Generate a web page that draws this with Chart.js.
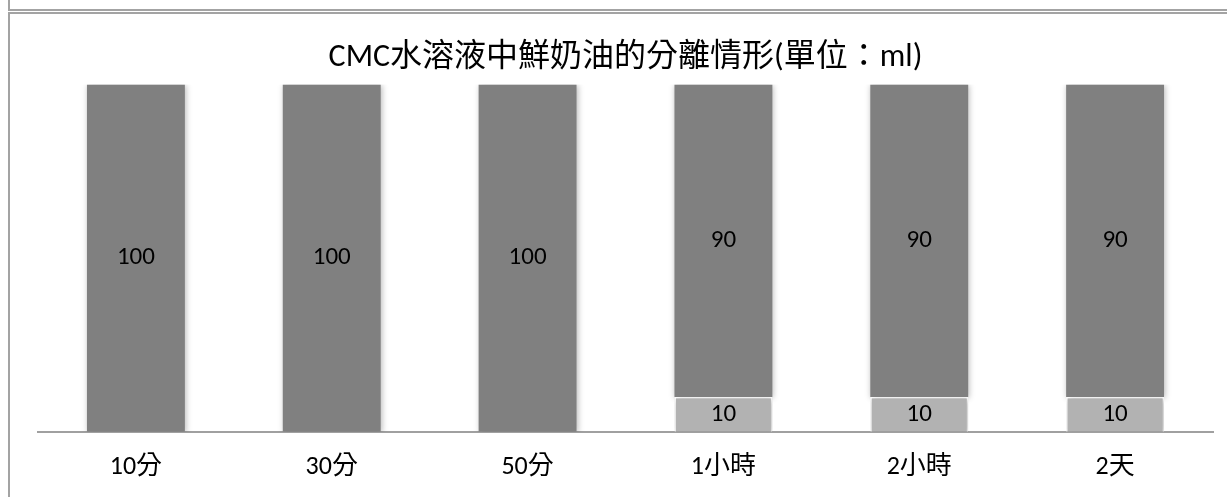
<!DOCTYPE html>
<html lang="zh-Hant">
<head>
    <meta charset="UTF-8">
    <title>CMC水溶液中鮮奶油的分離情形</title>
    <script src="https://cdn.jsdelivr.net/npm/chart.js"></script>
    <style>
        body {
            margin: 0;
            background: #ffffff;
            overflow: hidden;
        }
        .box-top {
            position: absolute;
            left: 8px;
            top: -10px;
            width: 1300px;
            height: 17px;
            border: 2px solid #a3a3a3;
        }
        .box-chart {
            position: absolute;
            left: 8px;
            top: 12px;
            width: 1300px;
            height: 600px;
            border: 2px solid #a3a3a3;
        }
        #sepChart {
            position: absolute;
            left: 0;
            top: 0;
        }
    </style>
</head>
<body>

    <div class="box-top"></div>
    <div class="box-chart"></div>
    <canvas id="sepChart" width="1227" height="497"></canvas>

    <script>
        // data
        const categories = ["10分", "30分", "50分", "1小時", "2小時", "2天"];
        const separated = [null, null, null, 10, 10, 10];   // lower (light) part
        const mixed = [100, 100, 100, 90, 90, 90];          // upper (dark) part
        const chartTitle = "CMC水溶液中鮮奶油的分離情形(單位：ml)";

        const fontFamily = "Carlito, 'Liberation Sans', Arial, 'Noto Sans CJK TC', sans-serif";

        // soft shadow around the bars
        const shadowPlugin = {
            id: "barShadow",
            beforeDatasetsDraw(chart) {
                const ctx = chart.ctx;
                ctx.save();
                ctx.shadowColor = "rgba(0,0,0,0.28)";
                ctx.shadowBlur = 6;
                ctx.shadowOffsetX = 1;
                ctx.shadowOffsetY = 1;
            },
            afterDatasetsDraw(chart) {
                chart.ctx.restore();
            }
        };

        // values in the middle of each segment
        const valueLabels = {
            id: "valueLabels",
            afterDraw(chart) {
                const ctx = chart.ctx;
                ctx.save();
                ctx.font = "25px " + fontFamily;
                ctx.fillStyle = "#000000";
                ctx.textAlign = "center";
                ctx.textBaseline = "middle";
                chart.data.datasets.forEach((ds, i) => {
                    const meta = chart.getDatasetMeta(i);
                    meta.data.forEach((bar, j) => {
                        const v = ds.data[j];
                        if (v === null || v === 0) return;
                        const y = (bar.y + bar.base) / 2;
                        ctx.fillText(String(v), bar.x, y);
                    });
                });
                ctx.restore();
            }
        };

        const ctx = document.getElementById("sepChart").getContext("2d");
        new Chart(ctx, {
            type: "bar",
            data: {
                labels: categories,
                datasets: [
                    {
                        label: "分離",
                        data: separated,
                        backgroundColor: "#b2b2b2",
                        borderColor: "#ffffff",
                        borderWidth: 1.5,
                        categoryPercentage: 1,
                        barPercentage: 0.5
                    },
                    {
                        label: "未分離",
                        data: mixed,
                        backgroundColor: "#808080",
                        borderWidth: 0,
                        categoryPercentage: 1,
                        barPercentage: 0.5
                    }
                ]
            },
            options: {
                responsive: false,
                animation: false,
                layout: {
                    padding: { left: 38, right: 14, top: 39, bottom: -6 }
                },
                plugins: {
                    legend: { display: false },
                    tooltip: { enabled: false },
                    title: {
                        display: true,
                        text: chartTitle,
                        color: "#000000",
                        font: { family: fontFamily, size: 32, weight: "normal" },
                        padding: { top: 0, bottom: 7 }
                    }
                },
                scales: {
                    x: {
                        stacked: true,
                        grid: { display: false, drawTicks: false },
                        border: { display: true, color: "#a0a0a0", width: 2 },
                        ticks: {
                            color: "#000000",
                            padding: 20,
                            font: { family: fontFamily, size: 26 }
                        }
                    },
                    y: {
                        stacked: true,
                        display: false,
                        min: 0,
                        max: 100
                    }
                }
            },
            plugins: [shadowPlugin, valueLabels]
        });
    </script>

</body>
</html>
